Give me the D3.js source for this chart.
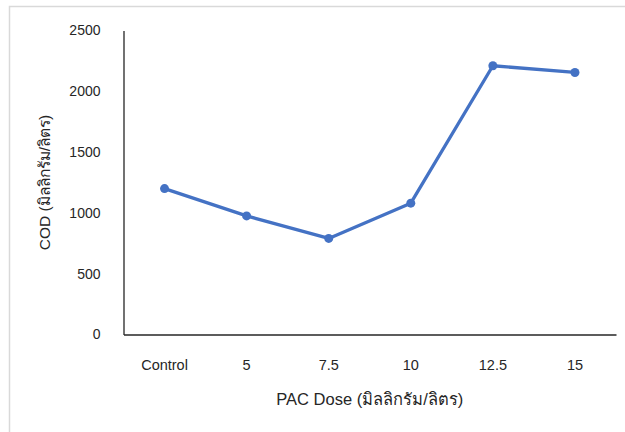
<!DOCTYPE html>
<html>
<head>
<meta charset="utf-8">
<script src="https://cdn.jsdelivr.net/npm/d3@7"></script>
<style>
  html, body { margin: 0; padding: 0; background: #fff; }
  svg { display: block; font-family: "Liberation Sans", Arial, "Noto Sans", sans-serif; }
</style>
</head>
<body>
<svg id="chart" width="625" height="432"></svg>
<script>
const categories = ["Control", "5", "7.5", "10", "12.5", "15"];
const codValues = [1200, 975, 790, 1080, 2210, 2155];
const yTicks = [0, 500, 1000, 1500, 2000, 2500];
const xTitle = "PAC Dose (มิลลิกรัม/ลิตร)";
const yTitle = "COD (มิลลิกรัม/ลิตร)";

const svg = d3.select("#chart");

// Frame
svg.append("path")
  .attr("d", "M9.5,432 V6.5 H625")
  .attr("fill", "none")
  .attr("stroke", "#d9d9d9")
  .attr("stroke-width", 1.5);

const plot = { left: 123.5, right: 616, top: 30.5, bottom: 334.5 };

const x = d3.scaleBand().domain(categories).range([plot.left, plot.right]);
const y = d3.scaleLinear().domain([0, 2500]).range([plot.bottom, plot.top]);

// Y axis
const yAxis = svg.append("g")
  .attr("transform", `translate(${plot.left},0)`)
  .call(d3.axisLeft(y).tickValues(yTicks).tickFormat(d3.format("d")).tickSize(0).tickPadding(23));
yAxis.select(".domain").attr("stroke", "#262626").attr("stroke-width", 1.3);
yAxis.selectAll("text").attr("font-size", 14).attr("fill", "#262626")
  .attr("font-family", "Liberation Sans, Arial, sans-serif");

// X axis
const xAxis = svg.append("g")
  .attr("transform", `translate(0,${plot.bottom})`)
  .call(d3.axisBottom(x).tickSize(0).tickPadding(25));
xAxis.select(".domain").attr("stroke", "#262626").attr("stroke-width", 1.3);
xAxis.selectAll("text").attr("font-size", 14.5).attr("fill", "#262626")
  .attr("font-family", "Liberation Sans, Arial, sans-serif");

// Series line
const cx = (i) => x(categories[i]) + x.bandwidth() / 2;
const line = d3.line()
  .x((d, i) => cx(i))
  .y(d => y(d));

svg.append("path")
  .datum(codValues)
  .attr("d", line)
  .attr("fill", "none")
  .attr("stroke", "#4472C4")
  .attr("stroke-width", 3.3)
  .attr("stroke-linejoin", "round");

svg.selectAll("circle.pt")
  .data(codValues)
  .join("circle")
  .attr("class", "pt")
  .attr("cx", (d, i) => cx(i))
  .attr("cy", d => y(d))
  .attr("r", 4.5)
  .attr("fill", "#4472C4");

// Axis titles
svg.append("text")
  .attr("x", (plot.left + plot.right) / 2)
  .attr("y", 405)
  .attr("text-anchor", "middle")
  .attr("font-size", 16.5)
  .attr("fill", "#262626")
  .text(xTitle);

svg.append("text")
  .attr("transform", `translate(50,${(plot.top + plot.bottom) / 2}) rotate(-90)`)
  .attr("text-anchor", "middle")
  .attr("font-size", 15.5)
  .attr("fill", "#262626")
  .text(yTitle);
</script>
</body>
</html>
